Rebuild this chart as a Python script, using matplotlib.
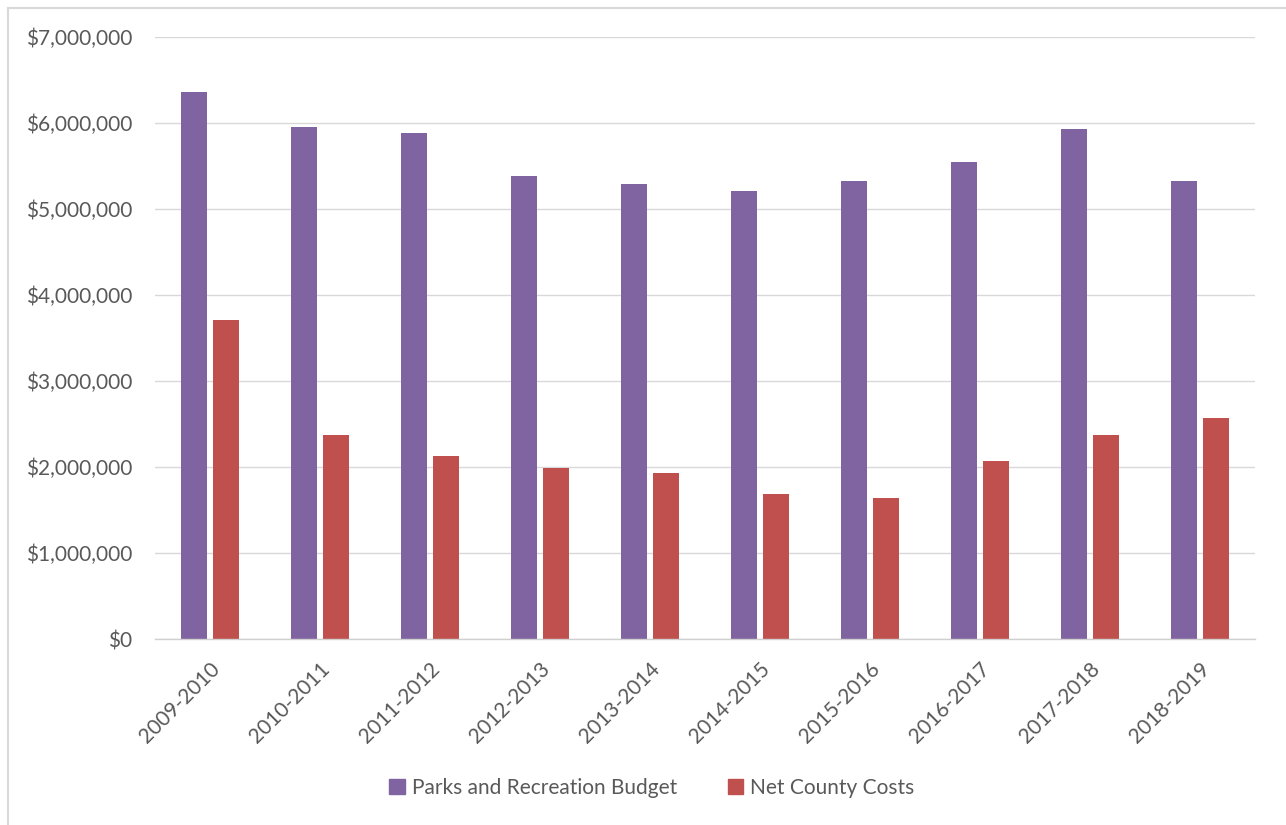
import matplotlib
matplotlib.use("Agg")
import matplotlib.pyplot as plt
import numpy as np
from matplotlib.ticker import FuncFormatter
from matplotlib.lines import Line2D

categories = ["2009-2010", "2010-2011", "2011-2012", "2012-2013", "2013-2014",
              "2014-2015", "2015-2016", "2016-2017", "2017-2018", "2018-2019"]
parks_budget = [6360000, 5950000, 5880000, 5380000, 5290000,
                5210000, 5320000, 5550000, 5930000, 5330000]
net_county = [3710000, 2370000, 2130000, 1990000, 1930000,
              1690000, 1640000, 2070000, 2370000, 2570000]
series_names = ["Parks and Recreation Budget", "Net County Costs"]
colors = ["#8064A2", "#C0504D"]
yticks = [0, 1000000, 2000000, 3000000, 4000000, 5000000, 6000000, 7000000]

plt.rcParams['font.family'] = ['Lato', 'DejaVu Sans']
text_color = "#595959"
fs = 15

fig = plt.figure(figsize=(12.86, 8.25), dpi=100)
ax = fig.add_axes([155/1286, 1-639/825, 1100/1286, 602/825])

x = np.arange(len(categories))
w = 0.24
ax.bar(x - 0.145, parks_budget, width=w, color=colors[0], label=series_names[0], zorder=3)
ax.bar(x + 0.145, net_county, width=w, color=colors[1], label=series_names[1], zorder=3)

ax.set_xlim(-0.5, len(categories) - 0.5)
ax.set_ylim(0, 7000000)
ax.set_yticks(yticks)
ax.yaxis.set_major_formatter(FuncFormatter(lambda v, p: "${:,.0f}".format(v)))
ax.set_xticks(x)
ax.set_xticklabels(categories, rotation=45, ha="right", va="top", rotation_mode="anchor")

ax.grid(axis="y", color="#D9D9D9", linewidth=1.0, zorder=0)
for s in ["top", "right", "left"]:
    ax.spines[s].set_visible(False)
ax.spines["bottom"].set_color("#D0D0D0")
ax.spines["bottom"].set_linewidth(1.0)
ax.spines["bottom"].set_zorder(4)

ax.tick_params(axis="y", length=0, pad=16.5, labelsize=fs, labelcolor=text_color)
ax.tick_params(axis="x", length=0, pad=14, labelsize=fs, labelcolor=text_color)

handles = [plt.Rectangle((0, 0), 1, 1, color=c) for c in colors]
fig.legend(handles, series_names, loc="center", bbox_to_anchor=(652/1286, 1-788/825),
           ncol=2, frameon=False, fontsize=fs, labelcolor=text_color,
           handlelength=0.75, handleheight=0.75, handletextpad=0.35, columnspacing=2.4)

# outer chart border (left and top visible)
fig.add_artist(Line2D([7.5/1286, 7.5/1286], [0, 1-7.5/825], color="#D9D9D9", linewidth=1.5, transform=fig.transFigure))
fig.add_artist(Line2D([7.5/1286, 1], [1-7.5/825, 1-7.5/825], color="#D9D9D9", linewidth=1.5, transform=fig.transFigure))

fig.savefig("out.png", dpi=100)
